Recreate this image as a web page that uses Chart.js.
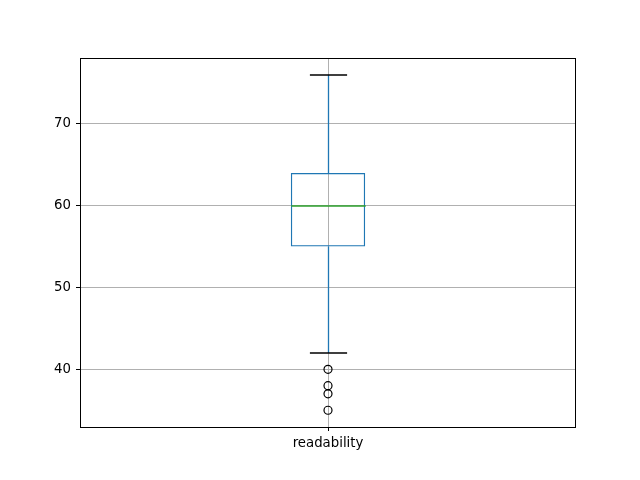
<!DOCTYPE html>
<html>
<head>
<meta charset="utf-8">
<script src="https://cdn.jsdelivr.net/npm/chart.js@4/dist/chart.umd.min.js"></script>
<style>
  html, body { margin: 0; padding: 0; background: #fff; }
  #wrap { width: 640px; height: 480px; }
</style>
</head>
<body>
<div id="wrap"><canvas id="myChart" width="640" height="480"></canvas></div>
<script>
// box plot data
const categories = ['readability'];
const boxRange = [55, 64];      // Q1, Q3
const medians = [60];
const whiskerLow = [42];
const whiskerHigh = [76];
const outliers = [40, 38, 37, 35];
const yTicks = [40, 50, 60, 70];
const yMin = 32.95, yMax = 78.05;

const boxWidth = 0.15; // fraction of the category
const capWidth = 0.075;

// whiskers, caps, median and frame drawn through the scales
const boxExtras = {
  id: 'boxExtras',
  afterDatasetsDraw: function (chart) {
    const ctx = chart.ctx;
    const x = chart.scales.x;
    const y = chart.scales.y;
    const area = chart.chartArea;
    const catW = area.right - area.left;
    categories.forEach(function (c, i) {
      const cx = Math.round(x.getPixelForValue(i)) + 0.5;
      ctx.save();
      // whiskers
      ctx.strokeStyle = '#1f77b4';
      ctx.lineWidth = 1.3;
      ctx.beginPath();
      ctx.moveTo(cx, y.getPixelForValue(boxRange[0]));
      ctx.lineTo(cx, y.getPixelForValue(whiskerLow[i]));
      ctx.moveTo(cx, y.getPixelForValue(boxRange[1]));
      ctx.lineTo(cx, y.getPixelForValue(whiskerHigh[i]));
      ctx.stroke();
      // caps
      ctx.strokeStyle = '#000';
      ctx.lineWidth = 1.5;
      ctx.beginPath();
      [whiskerLow[i], whiskerHigh[i]].forEach(function (v) {
        const py = Math.round(y.getPixelForValue(v));
        ctx.moveTo(cx - catW * capWidth / 2, py);
        ctx.lineTo(cx + catW * capWidth / 2, py);
      });
      ctx.stroke();
      // median
      ctx.strokeStyle = '#2ca02c';
      ctx.lineWidth = 1.3;
      ctx.beginPath();
      const my = Math.round(y.getPixelForValue(medians[i]));
      ctx.moveTo(cx - catW * boxWidth / 2, my);
      ctx.lineTo(cx + catW * boxWidth / 2, my);
      ctx.stroke();
      ctx.restore();
    });
    // frame
    ctx.save();
    ctx.strokeStyle = '#000';
    ctx.lineWidth = 1;
    ctx.strokeRect(Math.round(area.left) + 0.5, Math.round(area.top) + 0.5,
      Math.round(area.right - area.left) - 1, Math.round(area.bottom - area.top));
    ctx.restore();
  }
};

const ctx = document.getElementById('myChart').getContext('2d');
new Chart(ctx, {
  type: 'bar',
  data: {
    labels: categories,
    datasets: [
      {
        label: 'box',
        data: [boxRange],
        backgroundColor: 'rgba(0,0,0,0)',
        borderColor: '#1f77b4',
        borderWidth: 1.3,
        borderSkipped: false,
        categoryPercentage: 1,
        barPercentage: boxWidth,
        order: 1
      },
      {
        type: 'scatter',
        label: 'outliers',
        data: outliers.map(function (v) { return { x: categories[0], y: v }; }),
        pointStyle: 'circle',
        pointRadius: 4,
        pointBorderWidth: 1.2,
        pointBorderColor: '#000',
        pointBackgroundColor: 'rgba(0,0,0,0)',
        order: 0
      }
    ]
  },
  options: {
    responsive: false,
    animation: false,
    events: [],
    layout: { padding: { top: 58, right: 64, left: 0, bottom: 0 } },
    plugins: {
      legend: { display: false },
      tooltip: { enabled: false }
    },
    scales: {
      x: {
        type: 'category',
        offset: true,
        grid: { offset: false, color: '#b0b0b0', lineWidth: 1, tickColor: '#000', tickLength: 4, drawTicks: true },
        border: { display: false },
        ticks: { color: '#000', font: { family: 'DejaVu Sans', size: 13.3 }, padding: 5, maxRotation: 0 },
        afterFit: function (scale) { scale.height = 53; }
      },
      y: {
        min: yMin,
        max: yMax,
        grid: { color: '#b0b0b0', lineWidth: 1, tickColor: '#000', tickLength: 4 },
        border: { display: false },
        ticks: { color: '#000', font: { family: 'DejaVu Sans', size: 13.3 }, padding: 5 },
        afterBuildTicks: function (scale) {
          scale.ticks = yTicks.map(function (v) { return { value: v }; });
        },
        afterFit: function (scale) { scale.width = 80; }
      }
    }
  },
  plugins: [boxExtras]
});
</script>
</body>
</html>
